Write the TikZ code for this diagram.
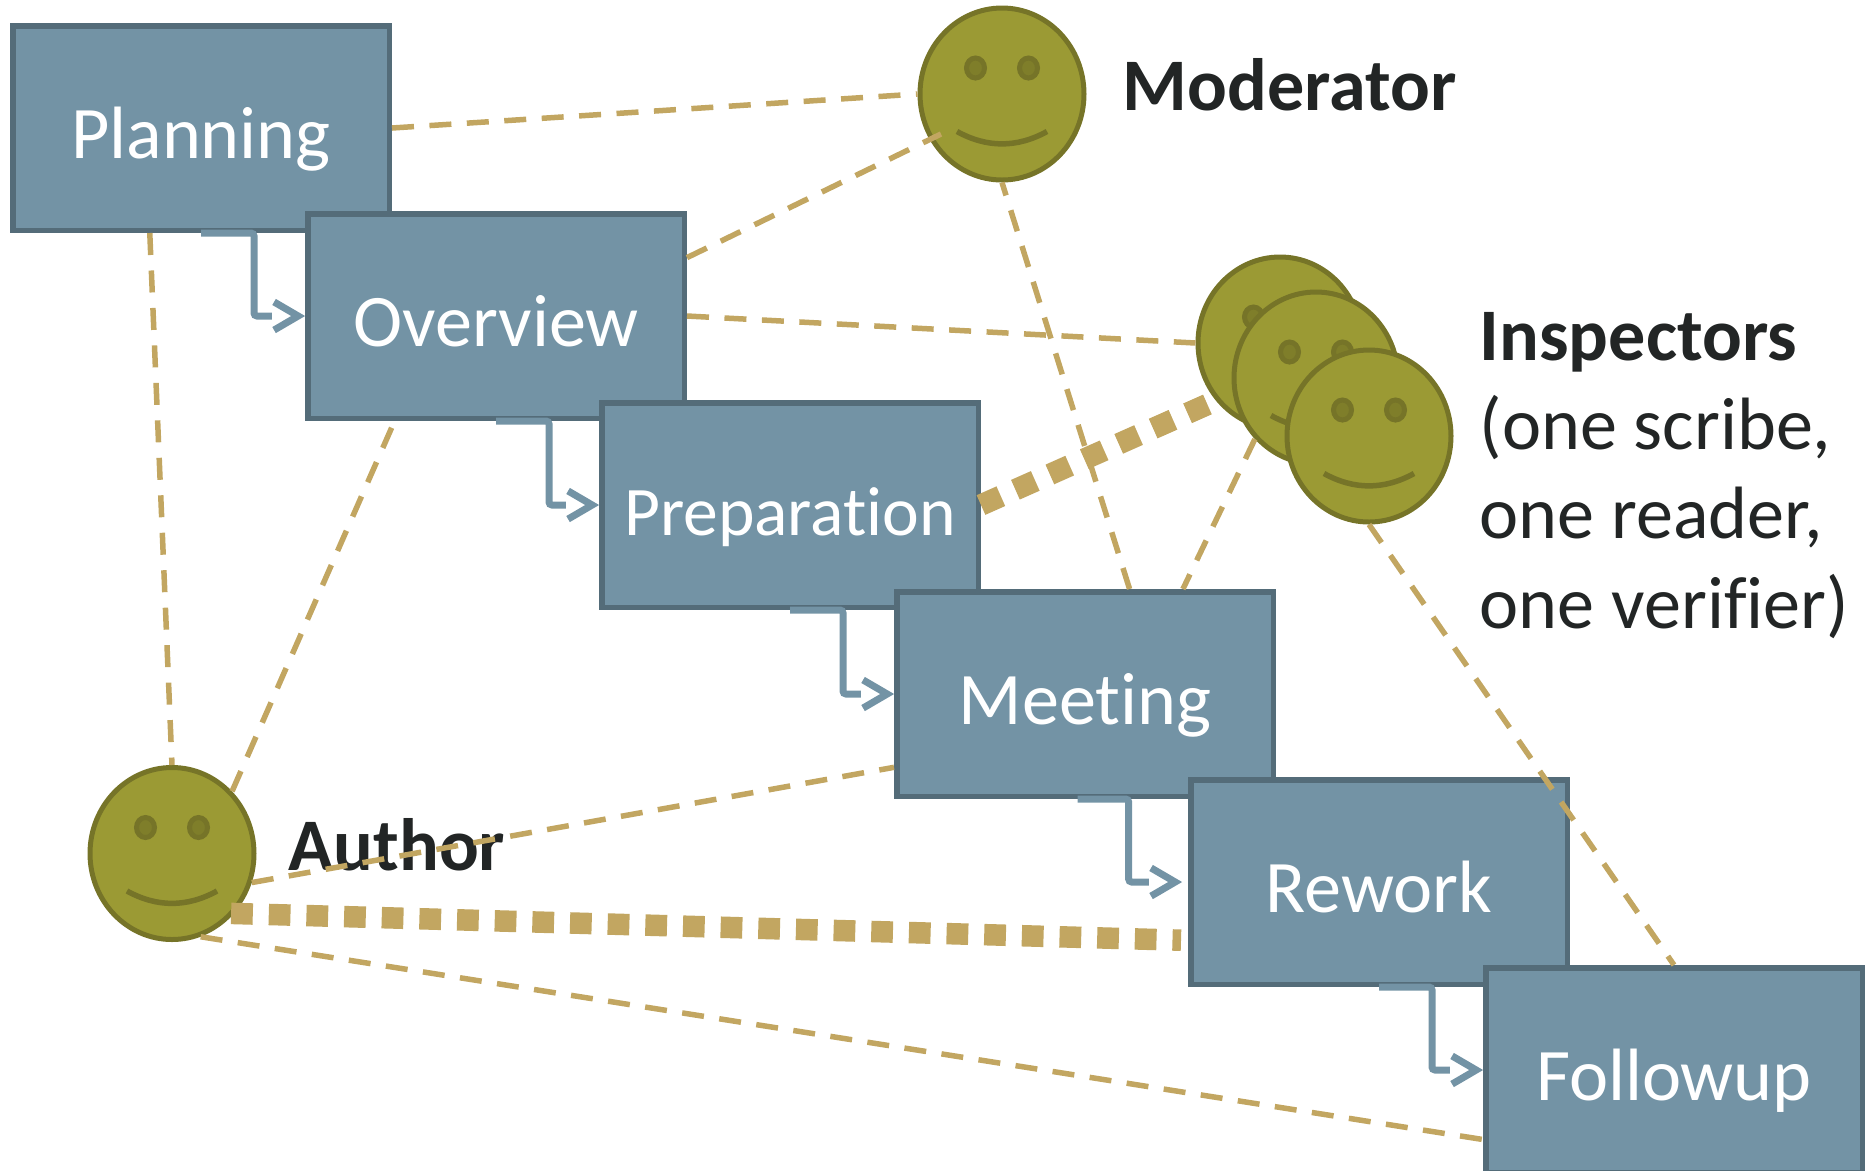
\documentclass[tikz,border=0pt]{standalone}
\usepackage{fontspec}
\setmainfont{Carlito}[Ligatures=NoCommon]
\usetikzlibrary{arrows.meta,shapes.geometric}
\definecolor{stagefill}{HTML}{7393A5}
\definecolor{stageline}{HTML}{546C79}
\definecolor{facefill}{HTML}{9B9A34}
\definecolor{faceline}{HTML}{767428}
\definecolor{eyefill}{HTML}{7F7E2A}
\definecolor{linktan}{HTML}{C2A661}
\definecolor{labelink}{HTML}{222525}
\pgfdeclarearrow{
    name=Chevron,
    setup code={
        \pgfarrowssettipend{0pt}
        \pgfarrowssetbackend{-9.6pt}
        \pgfarrowssetlineend{-9.4pt}
        \pgfarrowssetvisualbackend{-9.4pt}
        \pgfarrowshullpoint{0pt}{0pt}
        \pgfarrowsupperhullpoint{-9.6pt}{4.7pt}
    },
    drawing code={
        \pgfsetdash{}{0pt}
        \pgfsetlinewidth{2pt}
        \pgfsetbuttcap
        \pgfsetmiterjoin
        \pgfpathmoveto{\pgfqpoint{-8.8pt}{4pt}}
        \pgfpathlineto{\pgfqpoint{-1.95pt}{0pt}}
        \pgfpathlineto{\pgfqpoint{-8.8pt}{-4pt}}
        \pgfusepathqstroke
    }
}
\tikzset{
    stage/.style={rectangle,draw=stageline,fill=stagefill,line width=0.55mm,minimum width=37.65mm,minimum height=20.45mm,inner sep=0pt,text=white,text height=7mm,text depth=1mm,font=\fontsize{21.1}{25.4}\selectfont},
    flow/.style={draw=stagefill,line width=0.7mm,rounded corners=0.3mm,-{Chevron[]}},
    face/.style={ellipse,draw=faceline,fill=facefill,line width=0.5mm,minimum width=16.4mm,minimum height=17.2mm,inner sep=0pt},
    eye/.style={draw=faceline,fill=eyefill,line width=0.5mm},
    mouth/.style={draw=faceline,line width=0.55mm},
    link/.style={draw=linktan,line width=0.55mm,dash pattern=on 2.2mm off 1.55mm},
    widelink/.style={draw=linktan,line width=2.15mm,dash pattern=on 2.17mm off 1.597mm},
    who/.style={inner sep=0pt,text=labelink,align=left,anchor=base west,font=\fontsize{21.1}{25.4}\selectfont},
}
\newcommand{\smiley}[2]{
    \node[face] (#1) at (#2) {};
    \begin{scope}[shift={(#2)}]
        \draw[eye] (-26.5,-26) ellipse (9 and 10);
        \draw[eye] (26.5,-26) ellipse (9 and 10);
        \draw[mouth] (-45,37.5) .. controls (-15,54) and (15,54) .. (45,37.5);
    \end{scope}
}
\begin{document}
\begin{tikzpicture}[x=0.1mm,y=-0.1mm]
    \path[use as bounding box,clip] (0,0) rectangle (1871,1170);
    \node[stage] (planning) at (201,128) {Planning};
    \node[stage] (overview) at (496,316) {Overview};
    \node[stage,font=\fontsize{19.8}{25.4}\selectfont] (preparation) at (790,505) {Preparation};
    \node[stage] (meeting) at (1085,694) {Meeting};
    \node[stage] (rework) at (1379,882) {Rework};
    \node[stage] (followup) at (1674,1070) {Followup};
    \draw[flow] (planning.south) -- ++(53,0) |- (overview.west);
    \draw[flow] (overview.south) -- ++(53,0) |- (preparation.west);
    \draw[flow] (preparation.south) -- ++(53,0) |- (meeting.west);
    \draw[flow,shorten >=0.6mm] (meeting.266) -- ++(51,0) |- (rework.west);
    \draw[flow] (rework.south) -- ++(53,0) |- (followup.west);
    \smiley{moderator}{1002,94}
    \smiley{scribe}{1280,343}
    \smiley{reader}{1316,378}
    \smiley{verifier}{1369,436}
    \smiley{author}{172,853.5}
    \node[who] (moderatorname) at (1122,110) {\textbf{Moderator}};
    \node[who] (inspectorsname) at (1479,628) {\textbf{Inspectors}\\(one scribe,\\one reader,\\one verifier)};
    \node[who] (authorname) at (288,870) {\textbf{Author}};
    \coordinate (moderatorcheek) at (941,134);
    \draw[link] (planning.east) -- (moderator.west);
    \draw[link] (overview.17) -- (moderatorcheek);
    \draw[link] (meeting.67) -- (moderator.south);
    \draw[link] (overview.east) -- (scribe.west);
    \draw[link] (reader.225) -- (meeting.47);
    \draw[link] (verifier.south) -- (followup.north);
    \draw[link] (planning.244) -- (author.north);
    \draw[link] (author.46) -- (overview.226);
    \draw[link] (author.340) -- (meeting.201);
    \draw[link] (author.289) -- (followup.200);
    \draw[widelink,shorten <=-0.3mm,shorten >=0.7mm] (author.316) -- (rework.197);
    \draw[widelink,shorten >=0.9mm] (preparation.east) -- (scribe.222);
\end{tikzpicture}
\end{document}
